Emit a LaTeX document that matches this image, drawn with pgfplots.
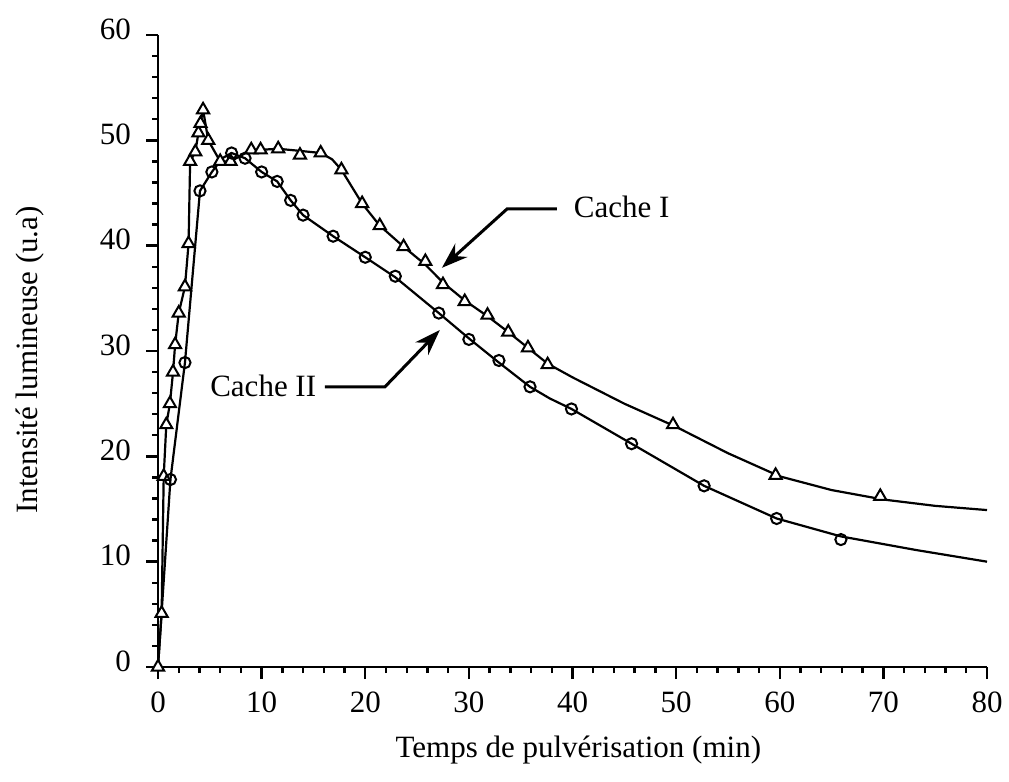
\documentclass[border=0pt]{standalone}
\usepackage{fontspec}
\setmainfont{Liberation Serif}
\usepackage{pgfplots}
\pgfplotsset{compat=1.18}
\usetikzlibrary{arrows.meta}

\begin{document}
\begin{tikzpicture}[font=\fontsize{15.5}{18}\selectfont]
\begin{axis}[
    scale only axis,
    width=414.5pt, height=316pt,
    xmin=0, xmax=80,
    ymin=0, ymax=60,
    axis lines*=left,
    axis line style={line width=1.4pt},
    xtick={0,10,...,80},
    ytick={0,10,...,60},
    minor tick num=4,
    tick align=outside,
    major tick length=6pt,
    minor tick length=3pt,
    every tick/.style={black, line width=1.2pt},
    /pgf/number format/assume math mode=true,
    xticklabel style={yshift=-3pt},
    yticklabel style={xshift=-4pt, yshift=3pt},
    xlabel={Temps de pulvérisation (min)},
    ylabel={Intensité lumineuse (u.a)},
    x label style={at={([yshift=-41.5pt]axis description cs:0.507,0)}, anchor=center},
    y label style={at={([xshift=-64pt]axis description cs:0,0.486)}, anchor=center, rotate=0},
    clip=false,
]

% Cache I : courbe
\addplot[black, line width=1.1pt, no markers] coordinates {
    (0,0)(0.35,5.1)(0.55,18.1)(0.8,23)(1.15,25)(1.45,28)(1.65,30.6)
    (2.0,33.6)(2.6,36.1)(2.95,40.2)(3.1,48.0)(3.6,48.9)(3.9,50.7)
    (4.1,51.6)(4.35,52.9)(4.85,50.0)(6.0,48.0)(7.0,48.0)(9.0,49.1)
    (9.9,49.1)(11.6,49.2)(13.7,49.0)(15.7,48.8)(16.8,48.2)(17.7,47.2)
    (18.7,45.6)(19.7,44.0)(21.4,41.9)(23.7,39.9)(25.8,38.2)(27.5,36.5)
    (29.6,34.8)(31.8,33.3)(33.8,31.8)(35.7,30.3)(37.6,28.8)(40,27.5)
    (45,25.0)(50,22.8)(55,20.3)(60,18.1)(65,16.8)(70,15.9)(75,15.3)(80,14.9)
};
% Cache II : courbe
\addplot[black, line width=1.1pt, no markers] coordinates {
    (0,0)(1.2,17.8)(2.6,28.9)(4.05,45.2)(5.2,47.0)(6.2,48.3)(7.1,48.8)
    (8.4,48.3)(10.0,47.0)(11.5,46.1)(12.8,44.3)(14.0,42.9)(16.9,40.9)
    (20.0,38.9)(22.9,37.0)(27.1,33.6)(30.0,31.2)(32.9,28.9)(35.9,26.6)
    (37.8,25.5)(39.9,24.5)(45.7,21.2)(52.7,17.2)(59.7,14.1)(65.9,12.4)
    (73.2,11.1)(80,10.0)
};
% Cache I : mesures
\addplot[black, only marks, mark=triangle*, mark size=3.5pt,
    mark options={fill=white, line width=1pt}] coordinates {
    (0,0)(0.35,5.1)(0.55,18.1)(0.8,23)(1.15,25)(1.45,28)(1.65,30.6)
    (2.0,33.6)(2.6,36.1)(2.95,40.2)(3.1,48.0)(3.6,48.9)(3.9,50.7)
    (4.1,51.6)(4.35,52.9)(4.85,50.0)(6.0,48.0)(7.0,48.0)(9.0,49.1)
    (9.9,49.1)(11.6,49.2)(13.7,48.6)(15.7,48.8)(17.7,47.2)(19.7,44.0)
    (21.4,41.9)(23.7,39.9)(25.8,38.5)(27.5,36.3)(29.6,34.7)(31.8,33.4)
    (33.8,31.8)(35.7,30.3)(37.6,28.7)(49.7,23.0)(59.6,18.2)(69.7,16.2)
};
% Cache II : mesures
\addplot[black, only marks, mark=o, mark size=2.8pt,
    mark options={fill=white, line width=1pt}] coordinates {
    (1.2,17.8)(2.6,28.9)(4.05,45.2)(5.2,47.0)(7.1,48.8)(8.4,48.3)
    (10.0,47.0)(11.5,46.1)(12.8,44.3)(14.0,42.9)(16.9,40.9)(20.0,38.9)
    (22.9,37.1)(27.1,33.6)(30.0,31.1)(32.9,29.1)(35.9,26.6)(39.9,24.5)
    (45.7,21.2)(52.7,17.2)(59.7,14.1)(65.9,12.1)
};

\draw[line width=1.5pt, -{Stealth[length=13pt,width=9pt]}]
    (axis cs:38.5,43.5) -- (axis cs:33.7,43.5) -- (axis cs:27.4,37.9);
\node[anchor=west, inner sep=0pt] at (axis cs:40.1,43.7) {Cache I};
\draw[line width=1.5pt, -{Stealth[length=13pt,width=9pt]}]
    (axis cs:16.1,26.6) -- (axis cs:21.9,26.6) -- (axis cs:27.2,32.0);
\node[anchor=east, inner sep=0pt] at (axis cs:15.3,26.7) {Cache II};
\end{axis}
\pgfresetboundingbox
\path (current axis.south west) ++(-79pt,-57pt);
\path (current axis.north east) ++(11pt,17.5pt);
\end{tikzpicture}
\end{document}
